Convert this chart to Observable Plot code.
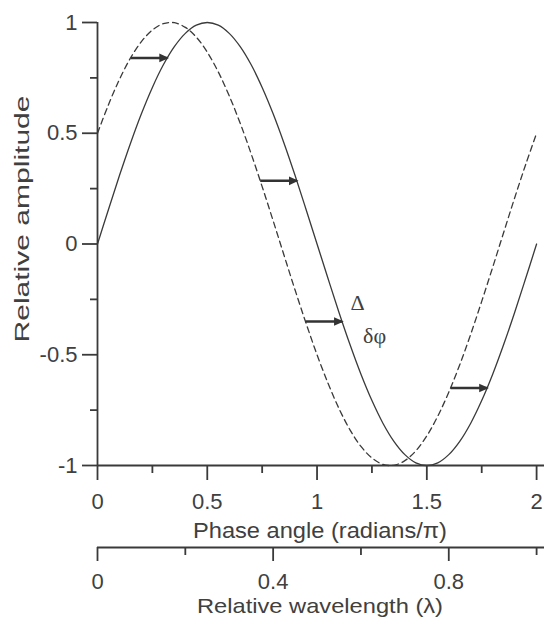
<!DOCTYPE html>
<html><head><meta charset="utf-8">
<script src="https://cdn.jsdelivr.net/npm/d3@7"></script>
<script src="https://cdn.jsdelivr.net/npm/@observablehq/plot@0.6"></script>
<style>body{margin:0;background:#fff;} #chart svg{display:block;}</style>
</head><body><div id="chart"></div>
<script>
const phase = [0,0.05,0.1,0.15,0.2,0.25,0.3,0.35,0.4,0.45,0.5,0.55,0.6,0.65,0.7,0.75,0.8,0.85,0.9,0.95,1,1.05,1.1,1.15,1.2,1.25,1.3,1.35,1.4,1.45,1.5,1.55,1.6,1.65,1.7,1.75,1.8,1.85,1.9,1.95,2];
const solid = [0,0.156,0.309,0.454,0.588,0.707,0.809,0.891,0.951,0.988,1,0.988,0.951,0.891,0.809,0.707,0.588,0.454,0.309,0.156,0,-0.156,-0.309,-0.454,-0.588,-0.707,-0.809,-0.891,-0.951,-0.988,-1,-0.988,-0.951,-0.891,-0.809,-0.707,-0.588,-0.454,-0.309,-0.156,0];
const dashed = [0.5,0.629,0.743,0.839,0.914,0.966,0.995,0.999,0.978,0.934,0.866,0.777,0.669,0.545,0.407,0.259,0.105,-0.052,-0.208,-0.358,-0.5,-0.629,-0.743,-0.839,-0.914,-0.966,-0.995,-0.999,-0.978,-0.934,-0.866,-0.777,-0.669,-0.545,-0.407,-0.259,-0.105,0.052,0.208,0.358,0.5];
const arrowAmp = [0.84,0.285,-0.35,-0.65];
const arrowFrom = [0.152,0.741,0.947,1.608];
const arrowTo = [0.318,0.908,1.114,1.775];
const yMajor = [-1,-0.5,0,0.5,1];
const yMinor = [-0.75,-0.25,0.25,0.75];
const xMajor = [0,0.5,1,1.5,2];
const xMinor = [0.25,0.75,1.25,1.75];
const lambdaMajor = [0,0.4,0.8];
const lambdaMinor = [0.2,0.6,1.0];
const notes = ["Δ","δφ"];
const notePhase = [1.185,1.262];
const noteAmp = [-0.266,-0.415];
const titleX = "Phase angle (radians/π)";
const titleX2 = "Relative wavelength (λ)";
const titleY = "Relative amplitude";

const ink = "#3a3a3a";
const txt = "#404040";
const curveData = phase.map((x,i)=>({x, s: solid[i], d: dashed[i]}));
const arrows = arrowAmp.map((a,i)=>({a, x1: arrowFrom[i], x2: arrowTo[i]}));
const noteData = notes.map((t,i)=>({t, x: notePhase[i], y: noteAmp[i]}));
const lam2phase = l => l*2;

const chart = Plot.plot({
  width: 544, height: 620,
  marginLeft: 97, marginRight: 0, marginTop: 22, marginBottom: 155,
  style: {fontFamily: "'Liberation Sans', Arial, sans-serif", color: txt, background: "#fff"},
  x: {domain: [0, 2.036], axis: null},
  y: {domain: [-1, 1], axis: null},
  marks: [
    Plot.ruleX([0], {y1: -1, y2: 1, stroke: ink, strokeWidth: 1.8}),
    Plot.ruleY([-1], {stroke: ink, strokeWidth: 1.8}),
    Plot.ruleY([-1], {stroke: ink, strokeWidth: 1.8, dy: 82}),
    Plot.axisY(yMajor, {tickSize: 15, tickPadding: 5, fontSize: 22, stroke: ink, strokeWidth: 1.8, tickFormat: d => String(d)}),
    Plot.axisY(yMinor, {tickSize: 7, stroke: ink, strokeWidth: 1.8, tickFormat: () => ""}),
    Plot.axisX(xMajor, {tickSize: 15, tickPadding: 13, fontSize: 22, stroke: ink, strokeWidth: 1.8, tickFormat: d => String(d)}),
    Plot.axisX(xMinor, {tickSize: 8, stroke: ink, strokeWidth: 1.8, tickFormat: () => ""}),
    Plot.axisX(lambdaMajor.map(lam2phase), {tickSize: 14, tickPadding: 12, fontSize: 22, dy: 82, stroke: ink, strokeWidth: 1.8, tickFormat: d => String(+(d/2).toFixed(2))}),
    Plot.axisX(lambdaMinor.map(lam2phase), {tickSize: 8, dy: 82, stroke: ink, strokeWidth: 1.8, tickFormat: () => ""}),
    Plot.text([titleX], {frameAnchor: "bottom", textAnchor: "middle", lineAnchor: "middle", dy: 65, dx: -1, fontSize: 22, fill: txt}),
    Plot.text([titleX2], {frameAnchor: "bottom", textAnchor: "middle", lineAnchor: "middle", dy: 141, dx: -1, fontSize: 21, fill: txt}),
    Plot.text([titleY], {frameAnchor: "left", textAnchor: "middle", lineAnchor: "middle", rotate: -90, dx: -75, dy: -25, fontSize: 20, fill: txt}),
    Plot.line(curveData, {x: "x", y: "d", stroke: ink, strokeWidth: 1.3, strokeDasharray: "6,4", curve: "catmull-rom"}),
    Plot.line(curveData, {x: "x", y: "s", stroke: ink, strokeWidth: 1.3, curve: "catmull-rom"}),
    Plot.link(arrows, {x1: "x1", x2: "x2", y1: "a", y2: "a", stroke: "#333", strokeWidth: 2.5, markerEnd: "arrow"}),
    Plot.text(noteData, {x: "x", y: "y", text: "t", fontSize: 22, fill: txt, fontFamily: "'Liberation Serif', 'DejaVu Serif', serif"})
  ]
});
d3.select(chart).selectAll("marker").each(function(){
  const m = d3.select(this);
  m.attr("fill", "#333").attr("stroke", "none");
  m.select("path").attr("d", "M-4.8,-2.6L1,0L-4.8,2.6Z");
});
const stretch = {[titleX]: 254, [titleX2]: 246, [titleY]: 247};
d3.select(chart).selectAll("text").each(function(){
  const t = this.textContent;
  if (stretch[t]) d3.select(this).attr("textLength", stretch[t]).attr("lengthAdjust", "spacingAndGlyphs");
});
document.getElementById("chart").append(chart);
</script>
</body></html>
